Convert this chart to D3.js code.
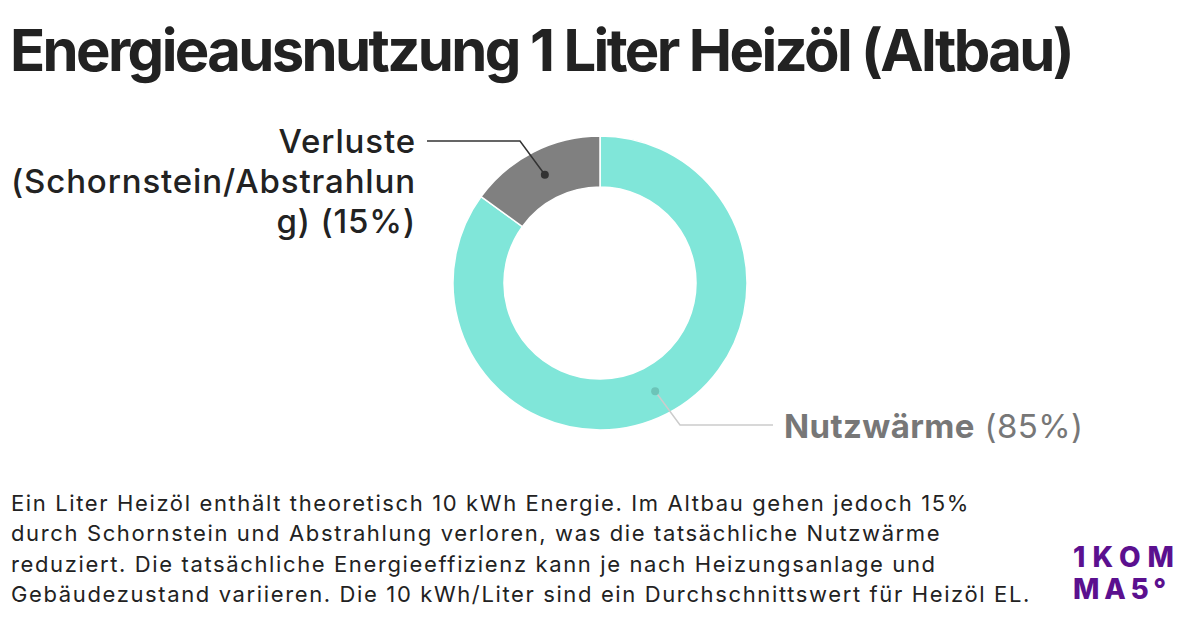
<!DOCTYPE html>
<html><head><meta charset="utf-8">
<script src="https://cdn.jsdelivr.net/npm/d3@7"></script>
<style>
html,body{margin:0;padding:0;background:#fff;}
svg{display:block;font-family:Inter,"Noto Sans",sans-serif;}
</style></head>
<body>
<svg id="chart" width="1200" height="622"></svg>
<script>
const title = "Energieausnutzung 1 Liter Heizöl (Altbau)";
const categories = ["Nutzwärme", "Verluste (Schornstein/Abstrahlung)"];
const values = [85, 15];
const colors = ["#80e6d9", "#808080"];
const footerLines = [
  "Ein Liter Heizöl enthält theoretisch 10 kWh Energie. Im Altbau gehen jedoch 15%",
  "durch Schornstein und Abstrahlung verloren, was die tatsächliche Nutzwärme",
  "reduziert. Die tatsächliche Energieeffizienz kann je nach Heizungsanlage und",
  "Gebäudezustand variieren. Die 10 kWh/Liter sind ein Durchschnittswert für Heizöl EL."
];
const verlusteLabel = ["Verluste", "(Schornstein/Abstrahlun", "g) (15%)"];
const logoLines = ["1KOM", "MA5°"];

const svg = d3.select("#chart");

// fit letter-spacing so a text element reaches a given width
function fit(sel, target) {
  sel.attr("letter-spacing", "0px");
  const w = sel.node().getComputedTextLength();
  const n = sel.text().length;
  sel.attr("letter-spacing", ((target - w) / n) + "px");
  return (target - w) / n;
}

// Title
const t = svg.append("text").attr("x", 10).attr("y", 71)
  .attr("font-size", 58).attr("font-weight", 700).attr("fill", "#222").text(title);
fit(t, 1062);

// Donut
const cx = 600, cy = 283, rOuter = 147, rInner = 96;
const g = svg.append("g").attr("transform", `translate(${cx},${cy})`);
const pie = d3.pie().sort(null).value(d => d.v);
const data = pie(categories.map((c, i) => ({c, v: values[i], col: colors[i]})));
const arc = d3.arc().innerRadius(rInner).outerRadius(rOuter);
g.selectAll("path").data(data).join("path")
  .attr("d", arc).attr("fill", d => d.data.col)
  .attr("stroke", "#fff").attr("stroke-width", 1.5);

const mid = d3.arc().innerRadius((rInner + rOuter) / 2).outerRadius((rInner + rOuter) / 2);

// Verluste label
const cV = mid.centroid(data[1]);
const pV = [cx + cV[0], cy + cV[1]];
svg.append("polyline")
  .attr("points", [[pV[0], pV[1]], [520, 141], [427, 141]].map(p => p.join(",")).join(" "))
  .attr("fill", "none").attr("stroke", "#333").attr("stroke-width", 1.5);
svg.append("circle").attr("cx", pV[0]).attr("cy", pV[1]).attr("r", 4).attr("fill", "#333");
const vt = svg.append("text").attr("text-anchor", "end").attr("font-size", 33)
  .attr("fill", "#222").attr("font-weight", 500);
const vSpans = verlusteLabel.map((l, i) => vt.append("tspan").attr("x", 416).attr("y", 153 + i * 40).text(l));
const tmpV = svg.append("text").attr("font-size", 33).attr("font-weight", 500).text(verlusteLabel[1]);
const lsV = fit(tmpV, 405);
tmpV.remove();
vt.attr("letter-spacing", lsV + "px");

// Nutzwärme label
const cN = mid.centroid(data[0]);
const pN = [cx + cN[0], cy + cN[1]];
svg.append("polyline")
  .attr("points", [[pN[0], pN[1]], [680, 425], [773, 425]].map(p => p.join(",")).join(" "))
  .attr("fill", "none").attr("stroke", "#ccc").attr("stroke-width", 1.5);
svg.append("circle").attr("cx", pN[0]).attr("cy", pN[1]).attr("r", 4).attr("fill", "#6cc4b8");
const nt = svg.append("text").attr("x", 784).attr("y", 438).attr("font-size", 33).attr("fill", "#777")
  .attr("letter-spacing", "0.4px");
nt.append("tspan").attr("font-weight", 700).text(categories[0]);
nt.append("tspan").attr("font-weight", 400).text(" (" + values[0] + "%)");

// Footer
const ft = svg.append("text").attr("font-size", 22).attr("fill", "#222");
footerLines.forEach((l, i) => ft.append("tspan").attr("x", 11).attr("y", 511 + i * 30.3).text(l));
const tmpF = svg.append("text").attr("font-size", 22).text(footerLines[3]);
const lsF = fit(tmpF, 1020);
tmpF.remove();
ft.attr("letter-spacing", lsF + "px");

// Logo
const logo = svg.append("g").attr("fill", "#5b108f").attr("font-weight", 800).attr("font-size", 28);
const l1 = logo.append("text").attr("x", 1073).attr("y", 567).text(logoLines[0]);
fit(l1, 108);
const l2 = logo.append("text").attr("x", 1073).attr("y", 598.5).text(logoLines[1]);
fit(l2, 98);
</script>
</body></html>
